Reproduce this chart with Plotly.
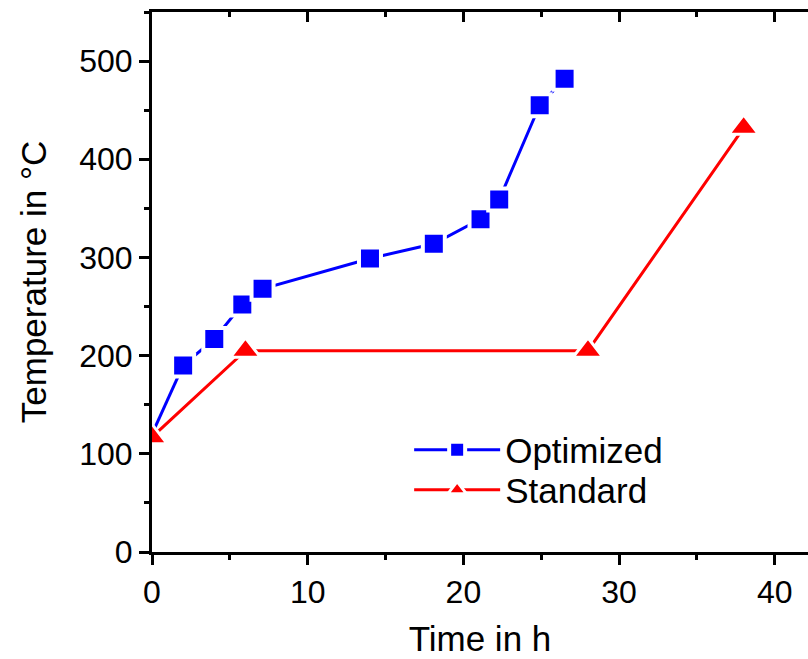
import plotly.graph_objects as go

opt_start_time = [0, 2.0]
opt_start_temp = [120, 190]
opt_time = [2.0, 4.0, 5.8, 7.1, 14.0, 18.1, 21.1, 22.3, 24.9, 26.5]
opt_temp = [190, 217, 252, 268, 299, 314, 339, 359, 455, 482]

std_time = [0, 6, 28, 38]
std_temp = [117, 205, 205, 432]

x_ticks = [0, 10, 20, 30, 40]
y_ticks = [0, 100, 200, 300, 400, 500]

FONT = "Liberation Sans, Arial, sans-serif"
W, H = 808, 659
ML, MT, MB, MR = 152, 12, 107, 0
px_per_x = 15.57
x_max = (W - ML - MR) / px_per_x

BLUE = "#0000ff"
RED = "#ff0000"

fig = go.Figure()
fig.add_trace(go.Scatter(
    x=opt_start_time, y=opt_start_temp, mode="lines", showlegend=False,
    line=dict(color=BLUE, width=3), hoverinfo="skip",
))
fig.add_trace(go.Scatter(
    x=opt_time, y=opt_temp, name="Optimized", mode="lines+markers",
    line=dict(color=BLUE, width=3), opacity=1, legend="legend",
    marker=dict(symbol="square", size=22, color=BLUE, opacity=1,
                line=dict(color="white", width=4)),
))
fig.add_trace(go.Scatter(
    x=std_time, y=std_temp, name="Standard", mode="lines+markers",
    line=dict(color=RED, width=3), opacity=1, legend="legend2",
    marker=dict(symbol="triangle-up", size=26, color=RED, opacity=1,
                line=dict(color="white", width=3)),
))
# invisible trace to activate the top axis
fig.add_trace(go.Scatter(x=[None], y=[None], xaxis="x2", showlegend=False,
                         hoverinfo="skip"))

axis_common = dict(
    showgrid=False, zeroline=False, showline=True, linecolor="black",
    linewidth=3, tickcolor="black", tickwidth=3,
    tickfont=dict(family=FONT, size=32, color="black"),
)

legend_common = dict(
    x=0.392, xanchor="left", yanchor="middle",
    bgcolor="rgba(0,0,0,0)", borderwidth=0,
    font=dict(family=FONT, size=35, color="black"),
    itemwidth=86, tracegroupgap=0,
)

fig.update_layout(
    width=W, height=H,
    margin=dict(l=ML, r=MR, t=MT, b=MB, pad=0),
    paper_bgcolor="white", plot_bgcolor="white",
    font=dict(family=FONT, size=32, color="black"),
    xaxis=dict(
        range=[0, x_max], tickvals=x_ticks, ticks="outside", ticklen=10,
        minor=dict(dtick=5, tick0=0, ticks="outside", ticklen=5,
                   tickwidth=3, tickcolor="black"),
        title=dict(text="Time in h", font=dict(family=FONT, size=35),
                   standoff=18),
        **axis_common,
    ),
    xaxis2=dict(
        overlaying="x", matches="x", side="top", anchor="y",
        range=[0, x_max], tickvals=x_ticks, ticks="inside", ticklen=10,
        showticklabels=False,
        minor=dict(dtick=5, tick0=0, ticks="inside", ticklen=5,
                   tickwidth=3, tickcolor="black"),
        **axis_common,
    ),
    yaxis=dict(
        range=[0, 550], tickvals=y_ticks, ticks="outside", ticklen=10,
        minor=dict(dtick=50, tick0=0, ticks="outside", ticklen=5,
                   tickwidth=3, tickcolor="black"),
        title=dict(text="Temperature in °C", font=dict(family=FONT, size=35),
                   standoff=22),
        **axis_common,
    ),
    legend=dict(y=0.189, **legend_common),
    legend2=dict(y=0.115, **legend_common),
    showlegend=True,
)

fig.write_html("out.html")
